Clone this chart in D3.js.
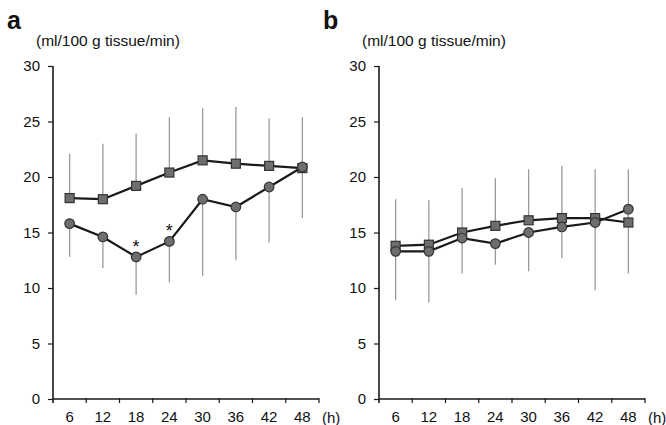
<!DOCTYPE html>
<html>
<head>
<meta charset="utf-8">
<script src="https://cdn.jsdelivr.net/npm/d3@7"></script>
<style>
	body { margin: 0; background: white; }
	svg { display: block; font-family: "Liberation Sans", Arial, sans-serif; }
</style>
</head>
<body>
<script>
// data
const hours = ["6", "12", "18", "24", "30", "36", "42", "48"];
const yTicks = [0, 5, 10, 15, 20, 25, 30];

// panel a
const aSquare = [18.1, 18.0, 19.2, 20.4, 21.5, 21.2, 21.0, 20.8];
const aSquareUp = [22.1, 23.0, 23.9, 25.4, 26.2, 26.3, 25.3, 25.4];
const aCircle = [15.8, 14.6, 12.8, 14.2, 18.0, 17.3, 19.1, 20.9];
const aCircleDown = [12.8, 11.8, 9.4, 10.5, 11.1, 12.5, 14.1, 16.3];
const aStars = ["18", "24"];

// panel b
const bSquare = [13.8, 13.9, 15.0, 15.6, 16.1, 16.3, 16.3, 15.9];
const bSquareUp = [18.0, 17.9, 19.0, 19.9, 20.7, 21.0, 20.7, 20.7];
const bCircle = [13.3, 13.3, 14.5, 14.0, 15.0, 15.5, 15.9, 17.1];
const bCircleDown = [8.9, 8.7, 11.3, 12.1, 11.5, 12.7, 9.8, 11.3];

const W = 666, H = 425;
const svg = d3.select("body").append("svg")
	.attr("width", W)
	.attr("height", H);

const LINE = "#1a1a1a";
const MARK = "#6e6e6e";
const BAR = "#9a9a9a";

function panel(opts) {
	const { left, right, letter, letterX, unitX, squares, squareUp, circles, circleDown, stars } = opts;

	const x = d3.scaleBand().domain(hours).range([left, right]);
	const y = d3.scaleLinear().domain([0, 30]).range([399, 66]);
	const cx = h => x(h) + x.bandwidth() / 2;

	const g = svg.append("g");

	// letter and unit
	g.append("text")
		.attr("x", letterX).attr("y", 29)
		.attr("font-size", 25).attr("font-weight", "bold")
		.attr("fill", "#111")
		.text(letter);
	g.append("text")
		.attr("x", unitX).attr("y", 46)
		.attr("font-size", 15.5)
		.attr("fill", "#111")
		.text("(ml/100 g tissue/min)");

	// y axis
	const yAxis = g.append("g")
		.attr("transform", `translate(${left},0)`)
		.call(d3.axisLeft(y).tickValues(yTicks).tickSize(5).tickPadding(8));
	yAxis.select(".domain").attr("stroke", LINE).attr("stroke-width", 1.6)
		.attr("d", `M0,${y(0) + 4}V${y(30)}`);
	yAxis.selectAll(".tick line").attr("stroke", LINE).attr("stroke-width", 1.2);
	yAxis.selectAll(".tick text").attr("font-size", 15).attr("fill", "#111")
		.attr("font-family", "Liberation Sans, Arial, sans-serif");

	// x axis
	const xAxis = g.append("g")
		.attr("transform", `translate(0,${y(0)})`)
		.call(d3.axisBottom(x).tickSize(0).tickPadding(12));
	xAxis.select(".domain").attr("stroke", LINE).attr("stroke-width", 1.6)
		.attr("d", `M${left},0H${right}`);
	xAxis.selectAll(".tick text").attr("font-size", 15).attr("fill", "#111")
		.attr("font-family", "Liberation Sans, Arial, sans-serif");

	// boundary ticks between the hour groups
	const edges = hours.map(h => x(h)).concat([right]);
	g.append("g").selectAll("line")
		.data(edges.slice(1))
		.join("line")
		.attr("x1", d => d).attr("x2", d => d)
		.attr("y1", y(0) - 1).attr("y2", y(0) + 4)
		.attr("stroke", LINE).attr("stroke-width", 1.2);

	g.append("text")
		.attr("x", right + 3).attr("y", y(0) + 24)
		.attr("font-size", 15).attr("fill", "#111")
		.text("(h)");

	// error bars
	g.append("g").selectAll("line")
		.data(hours.map((h, i) => ({ h, lo: squares[i], hi: squareUp[i] })))
		.join("line")
		.attr("x1", d => cx(d.h)).attr("x2", d => cx(d.h))
		.attr("y1", d => y(d.lo)).attr("y2", d => y(d.hi))
		.attr("stroke", BAR).attr("stroke-width", 1.3);
	g.append("g").selectAll("line")
		.data(hours.map((h, i) => ({ h, lo: circleDown[i], hi: circles[i] })))
		.join("line")
		.attr("x1", d => cx(d.h)).attr("x2", d => cx(d.h))
		.attr("y1", d => y(d.lo)).attr("y2", d => y(d.hi))
		.attr("stroke", BAR).attr("stroke-width", 1.3);

	const line = d3.line().x((d, i) => cx(hours[i])).y(d => y(d));

	// squares series
	g.append("path")
		.attr("d", line(squares))
		.attr("fill", "none").attr("stroke", LINE).attr("stroke-width", 2.2);
	g.append("g").selectAll("rect")
		.data(squares)
		.join("rect")
		.attr("x", (d, i) => cx(hours[i]) - 4.5)
		.attr("y", d => y(d) - 4.5)
		.attr("width", 9).attr("height", 9)
		.attr("fill", MARK).attr("stroke", "#333").attr("stroke-width", 1.2);

	// circles series
	g.append("path")
		.attr("d", line(circles))
		.attr("fill", "none").attr("stroke", LINE).attr("stroke-width", 2.2);
	g.append("g").selectAll("circle")
		.data(circles)
		.join("circle")
		.attr("cx", (d, i) => cx(hours[i]))
		.attr("cy", d => y(d))
		.attr("r", 4.8)
		.attr("fill", MARK).attr("stroke", "#333").attr("stroke-width", 1.2);

	// significance marks
	g.append("g").selectAll("text")
		.data(stars)
		.join("text")
		.attr("x", h => cx(h))
		.attr("y", h => y(circles[hours.indexOf(h)]) - 4)
		.attr("text-anchor", "middle")
		.attr("font-size", 18).attr("fill", "#111")
		.text("*");
}

panel({
	left: 53, right: 319, letter: "a", letterX: 7, unitX: 36,
	squares: aSquare, squareUp: aSquareUp,
	circles: aCircle, circleDown: aCircleDown, stars: aStars
});

panel({
	left: 379, right: 645, letter: "b", letterX: 323, unitX: 362,
	squares: bSquare, squareUp: bSquareUp,
	circles: bCircle, circleDown: bCircleDown, stars: []
});
</script>
</body>
</html>
